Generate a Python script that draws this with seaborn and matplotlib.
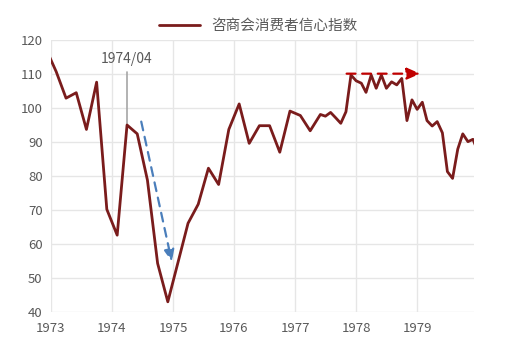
import seaborn as sns
import matplotlib.pyplot as plt
import matplotlib.dates as mdates
import pandas as pd

# conference board consumer confidence, bimonthly until mid-1977 then monthly
months = ['1972-12', '1973-02', '1973-04', '1973-06', '1973-08', '1973-10', '1973-12',
          '1974-02', '1974-04', '1974-06', '1974-08', '1974-10', '1974-12',
          '1975-02', '1975-04', '1975-06', '1975-08', '1975-10', '1975-12',
          '1976-02', '1976-04', '1976-06', '1976-08', '1976-10', '1976-12',
          '1977-02', '1977-04', '1977-06', '1977-07', '1977-08', '1977-09', '1977-10',
          '1977-11', '1977-12', '1978-01', '1978-02', '1978-03', '1978-04', '1978-05',
          '1978-06', '1978-07', '1978-08', '1978-09', '1978-10', '1978-11', '1978-12',
          '1979-01', '1979-02', '1979-03', '1979-04', '1979-05', '1979-06', '1979-07',
          '1979-08', '1979-09', '1979-10', '1979-11', '1979-12', '1980-01']
index_vals = [117.5, 110.7, 102.9, 104.5, 93.7, 107.6, 70.2,
              62.6, 95.0, 92.4, 78.8, 54.3, 43.0,
              54.8, 66.1, 71.7, 82.3, 77.5, 93.7,
              101.2, 89.6, 94.8, 94.8, 87.0, 99.1,
              97.8, 93.3, 98.1, 97.6, 98.7, 97.1, 95.5,
              98.9, 109.7, 108.0, 107.3, 104.6, 109.7, 105.8,
              109.7, 105.8, 107.7, 106.8, 108.7, 96.3, 102.4,
              99.6, 101.7, 96.3, 94.7, 96.0, 92.7, 81.3,
              79.3, 87.9, 92.4, 90.1, 90.8, 87.0]
series_name = '咨商会消费者信心指数'
year_ticks = [1973, 1974, 1975, 1976, 1977, 1978, 1979]

df = pd.DataFrame({'date': pd.to_datetime(months), 'value': index_vals})

sns.set_style('white')
plt.rcParams['font.family'] = ['Noto Sans CJK SC', 'DejaVu Sans']

fig = plt.figure(figsize=(5.08, 3.42), dpi=100)
ax = fig.add_axes([0.1004, 0.0877, 0.8326, 0.7953])

sns.lineplot(data=df, x='date', y='value', color='#7a1c1c', linewidth=2.0,
             label=series_name, ax=ax)

ax.set_xlim(pd.Timestamp('1973-01-01'), pd.Timestamp('1979-12-07'))
ax.set_ylim(40, 120)
ax.set_yticks(range(40, 121, 10))
ax.set_xticks([pd.Timestamp(f'{y}-01-01') for y in year_ticks])
ax.set_xticklabels([str(y) for y in year_ticks])
ax.grid(True, color='#e6e6e6', linewidth=1.0)
ax.set_axisbelow(True)
for s in ax.spines.values():
    s.set_visible(False)
ax.tick_params(length=0, labelsize=9.5, labelcolor='#595959')
ax.tick_params(axis='x', pad=7)
ax.tick_params(axis='y', pad=6)
ax.set_xlabel('')
ax.set_ylabel('')

# 1974/04 marker
d = mdates.date2num
ax.plot([d(pd.Timestamp('1974-04-01'))] * 2, [95.0, 110.5], color='#a6a6a6', lw=1.2, zorder=1)
ax.text(d(pd.Timestamp('1974-04-01')), 112.5, '1974/04', ha='center', va='bottom',
        fontsize=10, color='#595959')

# blue dashed arrow (fall)
ax.annotate('', xy=(d(pd.Timestamp('1974-12-25')), 54.8), xytext=(d(pd.Timestamp('1974-06-25')), 96),
            arrowprops=dict(arrowstyle='-|>,head_length=0.7,head_width=0.3', color='#4a7ebb',
                            lw=1.6, linestyle=(0, (4, 3)), shrinkA=0, shrinkB=0))
# red dashed arrow (flat)
ax.annotate('', xy=(d(pd.Timestamp('1979-01-20')), 110.1), xytext=(d(pd.Timestamp('1977-11-05')), 110.1),
            arrowprops=dict(arrowstyle='-|>,head_length=0.8,head_width=0.35', color='#c00000',
                            lw=1.6, linestyle=(0, (4, 3)), shrinkA=0, shrinkB=0))

leg = ax.legend(loc='lower center', bbox_to_anchor=(0.49, 1.0), frameon=False,
                fontsize=10.5, handlelength=2.8, borderaxespad=0.1)
for t in leg.get_texts():
    t.set_color('#595959')

fig.savefig('out.png', dpi=100)
